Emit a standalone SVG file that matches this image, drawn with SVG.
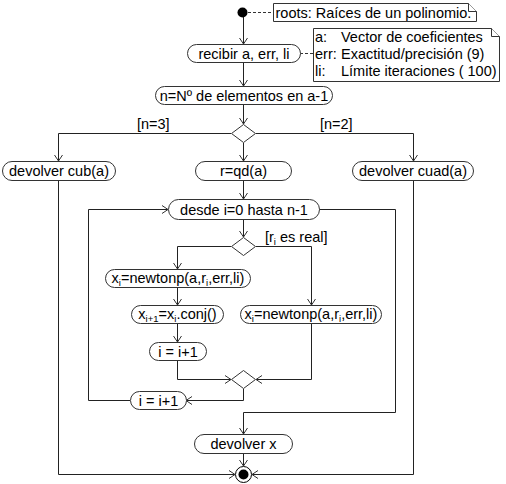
<svg xmlns="http://www.w3.org/2000/svg" width="506" height="484" viewBox="0 0 506 484">
<defs>
<style>
text{font-family:"Liberation Sans",Arial,sans-serif;font-size:14.5px;fill:#000}
.c{text-anchor:middle}
.pill{fill:#fff;stroke:#333;stroke-width:1}
.note{fill:#fff;stroke:#333;stroke-width:1}
.ln{fill:none;stroke:#222;stroke-width:1}
.dash{fill:none;stroke:#333;stroke-width:1;stroke-dasharray:3,2}
.dia{fill:#fff;stroke:#333;stroke-width:1}
.sub{font-size:9.5px}
</style>
<marker id="arr" viewBox="-8 -5 10 10" refX="0" refY="0" markerWidth="10" markerHeight="10" markerUnits="userSpaceOnUse" orient="auto">
<path d="M-6,-4 L0,0 L-6,4" fill="none" stroke="#333" stroke-width="1"/>
</marker>
</defs>
<rect width="506" height="484" fill="#fff"/>

<g id="connectors">
<line class="dash" x1="248" y1="12.5" x2="273" y2="12.5"/>
<line class="dash" x1="300" y1="53.5" x2="313" y2="53.5"/>
<path class="ln" d="M243.5,17 V44" marker-end="url(#arr)"/>
<path class="ln" d="M243.5,62 V86" marker-end="url(#arr)"/>
<path class="ln" d="M243.5,104 V124" marker-end="url(#arr)"/>
<path class="ln" d="M231,133.5 H58.5 V161" marker-end="url(#arr)"/>
<path class="ln" d="M256,133.5 H413.5 V161" marker-end="url(#arr)"/>
<path class="ln" d="M243.5,143 V161" marker-end="url(#arr)"/>
<path class="ln" d="M58.5,180 V474.5 H235" marker-end="url(#arr)"/>
<path class="ln" d="M413.5,180 V474.5 H252" marker-end="url(#arr)"/>
<path class="ln" d="M243.5,180 V199" marker-end="url(#arr)"/>
<path class="ln" d="M319,209.5 H395.5 V412.5 H243.5 V434" marker-end="url(#arr)"/>
<path class="ln" d="M243.5,219 V237" marker-end="url(#arr)"/>
<path class="ln" d="M231,246.5 H177.5 V269" marker-end="url(#arr)"/>
<path class="ln" d="M256,246.5 H311.5 V305" marker-end="url(#arr)"/>
<path class="ln" d="M177.5,287 V305" marker-end="url(#arr)"/>
<path class="ln" d="M177.5,323 V342" marker-end="url(#arr)"/>
<path class="ln" d="M177.5,361 V379.5 H231" marker-end="url(#arr)"/>
<path class="ln" d="M311.5,323 V379.5 H256" marker-end="url(#arr)"/>
<path class="ln" d="M243.5,389 V400.5 H186" marker-end="url(#arr)"/>
<path class="ln" d="M130,400.5 H88.5 V209.5 H168" marker-end="url(#arr)"/>
<path class="ln" d="M243.5,454 V466" marker-end="url(#arr)"/>
</g>

<g id="start"><circle cx="242.5" cy="12.5" r="5" fill="#000"/></g>

<g id="note-roots">
<path class="note" d="M273.5,3.5 H468.5 L476.5,11.5 V21.5 H273.5 Z"/>
<path class="note" d="M468.5,3.5 V11.5 H476.5"/>
<text x="275.5" y="17.5">roots: Raíces de un polinomio.</text>
</g>

<g id="note-params">
<path class="note" d="M313.5,28.5 H491.5 L499.5,36.5 V81.5 H313.5 Z"/>
<path class="note" d="M491.5,28.5 V36.5 H499.5"/>
<text x="315" y="42">a:</text><text x="341" y="42">Vector de coeficientes</text>
<text x="315" y="58.5">err:</text><text x="341" y="58.5">Exactitud/precisión (9)</text>
<text x="315" y="75.5">li:</text><text x="341" y="75.5">Límite iteraciones ( 100)</text>
</g>

<g id="recibir"><rect class="pill" x="187.5" y="44.5" width="113" height="18" rx="9"/><text class="c" x="244" y="58.5">recibir a, err, li</text></g>
<g id="n-elem"><rect class="pill" x="155.5" y="86.5" width="177" height="18" rx="9"/><text class="c" x="244" y="100.5">n=Nº de elementos en a-1</text></g>

<g id="dec1"><path class="dia" d="M243.5,124.5 L255.5,133.5 L243.5,142.5 L231.5,133.5 Z"/>
<text x="137" y="129">[n=3]</text><text x="320" y="129">[n=2]</text></g>

<g id="cub"><rect class="pill" x="2.5" y="161.5" width="113" height="19" rx="9.5"/><text class="c" x="59" y="176">devolver cub(a)</text></g>
<g id="qd"><rect class="pill" x="195.5" y="161.5" width="96" height="19" rx="9.5"/><text class="c" x="243.5" y="176">r=qd(a)</text></g>
<g id="cuad"><rect class="pill" x="352.5" y="161.5" width="121" height="19" rx="9.5"/><text class="c" x="413" y="176">devolver cuad(a)</text></g>

<g id="desde"><rect class="pill" x="168.5" y="199.5" width="151" height="20" rx="10"/><text class="c" x="244" y="214.5">desde i=0 hasta n-1</text></g>

<g id="dec2"><path class="dia" d="M243.5,237.5 L255.5,246.5 L243.5,255.5 L231.5,246.5 Z"/>
<text x="265" y="242">[r<tspan class="sub" dy="3">i</tspan><tspan dy="-3"> es real]</tspan></text></g>

<g id="newton1"><rect class="pill" x="105.5" y="269.5" width="145" height="18" rx="9"/>
<text class="c" x="178" y="283">x<tspan class="sub" dy="3">i</tspan><tspan dy="-3">=newtonp(a,r</tspan><tspan class="sub" dy="3">i</tspan><tspan dy="-3">,err,li)</tspan></text></g>

<g id="conj"><rect class="pill" x="131.5" y="305.5" width="92" height="18" rx="9"/>
<text class="c" x="177.5" y="319">x<tspan class="sub" dy="3">i+1</tspan><tspan dy="-3">=x</tspan><tspan class="sub" dy="3">i</tspan><tspan dy="-3">.conj()</tspan></text></g>

<g id="newton2"><rect class="pill" x="240.5" y="305.5" width="141" height="18" rx="9"/>
<text class="c" x="311" y="319">x<tspan class="sub" dy="3">i</tspan><tspan dy="-3">=newtonp(a,r</tspan><tspan class="sub" dy="3">i</tspan><tspan dy="-3">,err,li)</tspan></text></g>

<g id="inc1"><rect class="pill" x="149.5" y="342.5" width="57" height="18" rx="9"/><text class="c" x="178" y="356.5">i = i+1</text></g>

<g id="merge"><path class="dia" d="M243.5,370.5 L255.5,379.5 L243.5,388.5 L231.5,379.5 Z"/></g>

<g id="inc2"><rect class="pill" x="130.5" y="391.5" width="56" height="18" rx="9"/><text class="c" x="158.5" y="405.5">i = i+1</text></g>

<g id="devx"><rect class="pill" x="194.5" y="434.5" width="98" height="19" rx="9.5"/><text class="c" x="243.5" y="449">devolver x</text></g>

<g id="end"><circle cx="243.5" cy="474.5" r="8" fill="#fff" stroke="#000" stroke-width="1"/><circle cx="243.5" cy="474.5" r="5" fill="#000"/></g>
</svg>
